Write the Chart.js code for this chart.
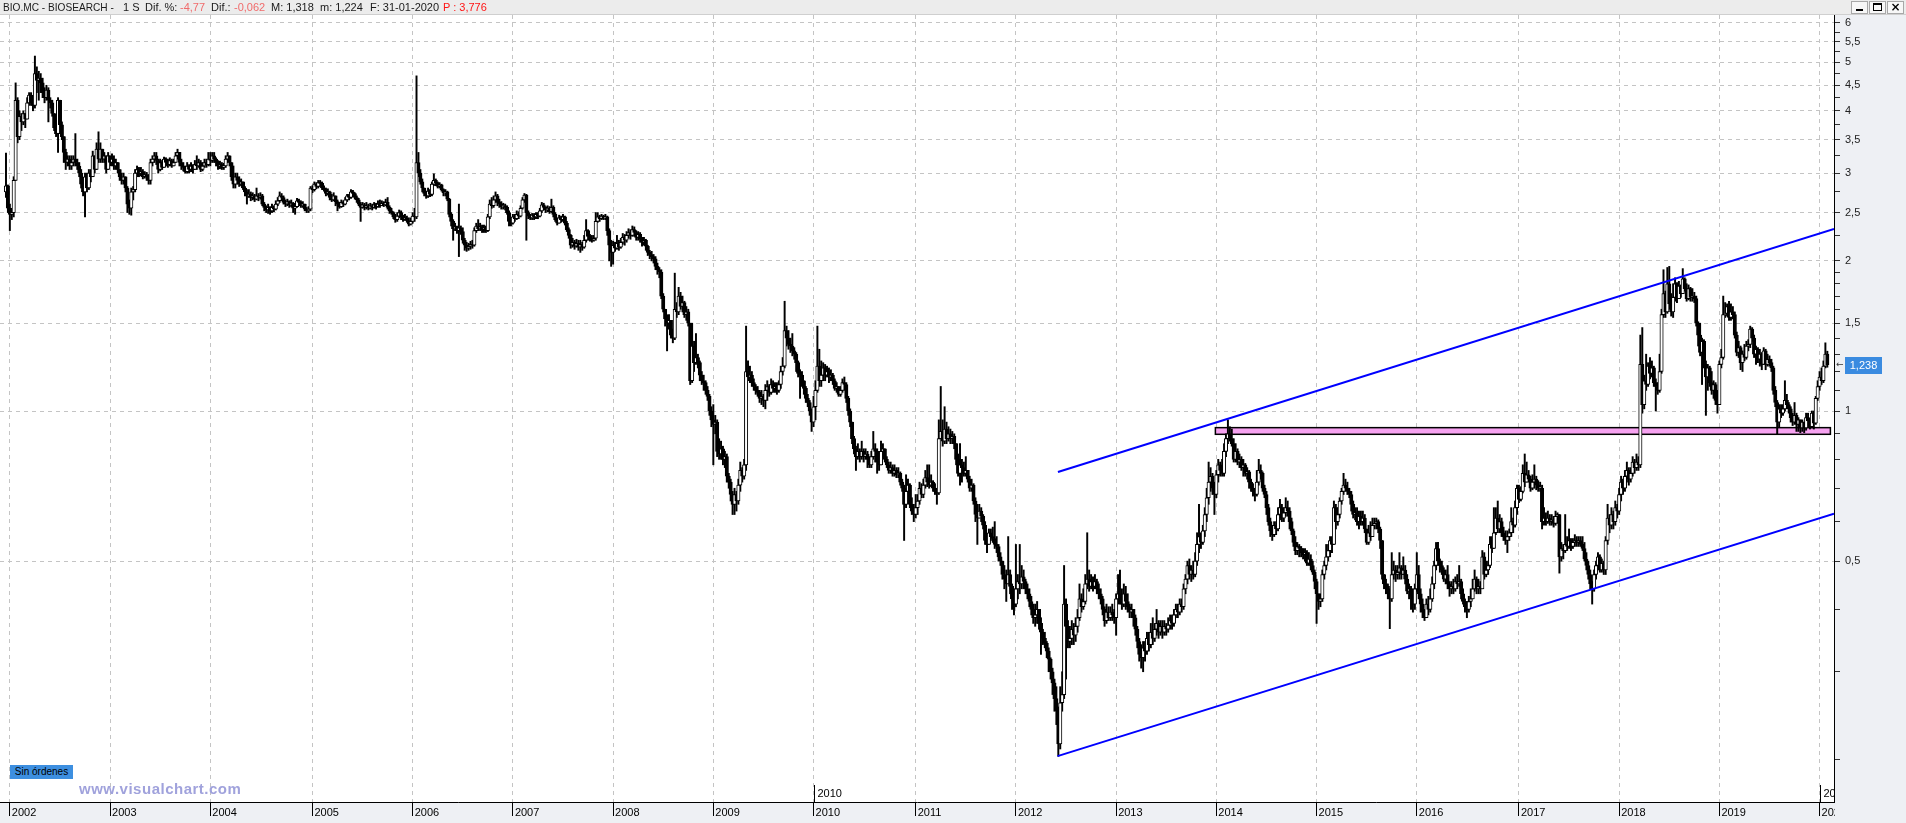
<!DOCTYPE html>
<html lang="es">
<head>
<meta charset="utf-8">
<title>BIO.MC - BIOSEARCH</title>
<script src="https://cdn.jsdelivr.net/npm/chart.js@4/dist/chart.umd.min.js"></script>
<style>
  html, body { margin:0; padding:0; background:#fff; overflow:hidden; }
  #wrap { position:relative; width:1906px; height:823px; }
  #chart { position:absolute; left:0; top:0; }
  .ov { position:absolute; white-space:pre; font-family:"Liberation Sans", Arial, sans-serif; }
  #hdr { left:0; top:0; width:1906px; height:14px; background:#ececec; border-bottom:1px solid #cfcfcf; }
  #hdr span { position:absolute; top:0; line-height:14px; font-size:11px; color:#1a1a1a; white-space:pre; }
  #hdr .neg { color:#f06b6b; }
  #hdr .red { color:#ff1414; }
  .wbtn { position:absolute; top:1px; width:15px; height:11px; border:1px solid #a8a8a8; background:#f7f7f7; }
  #sin { left:10px; top:765px; width:63px; height:14px; background:#3d8fe0; color:#000; font-size:10px; line-height:14px; text-align:center; }
  #vc { left:79px; top:780px; font-size:15px; font-weight:bold; color:#a0a2dc; letter-spacing:0.5px; }
</style>
</head>
<body>
<div id="wrap">
  <canvas id="chart" width="1906" height="823"></canvas>
  <div id="hdr" class="ov">
    <span style="left:3px;transform:scaleX(0.92);transform-origin:left center">BIO.MC - BIOSEARCH -</span>
    <span style="left:123px">1 S</span>
    <span style="left:145px">Dif. %:</span>
    <span class="neg" style="left:180px">-4,77</span>
    <span style="left:211px">Dif.:</span>
    <span class="neg" style="left:234px">-0,062</span>
    <span style="left:271px">M: 1,318</span>
    <span style="left:320px">m: 1,224</span>
    <span style="left:370px">F: 31-01-2020</span>
    <span class="red" style="left:443px">P : 3,776</span>
    <div class="wbtn" style="left:1851px"><div style="position:absolute;left:4px;top:7px;width:7px;height:2px;background:#000"></div></div>
    <div class="wbtn" style="left:1869px"><div style="position:absolute;left:3px;top:1px;width:7px;height:5px;border:1px solid #000;border-top-width:2px"></div></div>
    <div class="wbtn" style="left:1887px"><div style="position:absolute;left:0;top:-2px;width:15px;text-align:center;font:bold 12px 'DejaVu Sans',sans-serif;line-height:14px;color:#000">×</div></div>
  </div>
  <div id="sin" class="ov">Sin órdenes</div>
  <div id="vc" class="ov">www.visualchart.com</div>
</div>
<script>
// ---------------- DATA (weekly candles, prices in thousandths of euro) ----------------
const startDate = Date.UTC(2001, 11, 21);   // date of the first weekly bar (Friday)
const firstOpenMills = 2750;

const closeMills = [
  // 2001
  2830, 2550,
  // 2002
  2480, 2500, 2900, 4200, 3550, 3900, 3800, 3950, 3850, 4150,
  4300, 4150, 4100, 4750, 4600, 4650, 4550, 4350, 4250, 4400,
  4200, 4150, 3950, 3700, 3600, 4200, 3750, 3550, 3300, 3150,
  3200, 3100, 3150, 3200, 3150, 3100, 3000, 2850, 2750, 2950,
  2800, 3000, 2950, 3250, 3050, 3350, 3200, 3350, 3200, 3250,
  3050, 3250,
  // 2003
  3150, 3200, 3100, 3150, 3050, 2950, 2900, 2950, 2800, 2600,
  2550, 2750, 2780, 3000, 3050, 3000, 3020, 2950, 2980, 2950,
  2900, 3150, 3200, 3250, 3180, 3050, 3150, 3080, 3200, 3150,
  3120, 3180, 3100, 3150, 3250, 3300, 3150, 3100, 3080, 3020,
  3100, 3050, 3100, 3050, 3120, 3100, 3150, 3050, 3100, 3150,
  3120, 3200,
  // 2004
  3180, 3250, 3200, 3150, 3100, 3120, 3080, 3100, 3200, 3250,
  3150, 2950, 2850, 2950, 2900, 2850, 2880, 2800, 2750, 2700,
  2720, 2680, 2700, 2660, 2700, 2680, 2700, 2600, 2560, 2530,
  2560, 2520, 2560, 2540, 2600, 2640, 2700, 2680, 2620, 2600,
  2630, 2590, 2610, 2550, 2570, 2640, 2620, 2580, 2600, 2540,
  2520, 2540, 2800,
  // 2005
  2780, 2850, 2820, 2870, 2860, 2800, 2780, 2730, 2750, 2680,
  2650, 2700, 2630, 2600, 2570, 2620, 2600, 2650, 2700, 2680,
  2750, 2730, 2680, 2650, 2600, 2560, 2590, 2560, 2580, 2550,
  2580, 2560, 2590, 2570, 2600, 2580, 2610, 2590, 2620, 2560,
  2520, 2500, 2450, 2420, 2460, 2500, 2450, 2420, 2440, 2410,
  2370, 2400,
  // 2006
  2460, 2450, 3150, 3000, 2880, 2800, 2730, 2700, 2760, 2720,
  2850, 2900, 2870, 2820, 2840, 2780, 2740, 2750, 2660, 2480,
  2400, 2320, 2340, 2300, 2330, 2290, 2200, 2150, 2120, 2140,
  2160, 2150, 2300, 2350, 2320, 2340, 2310, 2330, 2300, 2450,
  2600, 2580, 2650, 2700, 2620, 2600, 2570, 2580, 2560, 2500,
  2400, 2380,
  // 2007
  2450, 2430, 2480, 2460, 2550, 2650, 2710, 2500, 2460, 2440,
  2470, 2450, 2480, 2460, 2520, 2590, 2560, 2530, 2550, 2510,
  2560, 2480, 2420, 2380, 2440, 2420, 2450, 2380, 2310, 2250,
  2150, 2180, 2140, 2170, 2130, 2160, 2130, 2200, 2300, 2240,
  2220, 2200, 2220, 2400, 2450, 2430, 2460, 2440, 2450, 2300,
  2150, 2080,
  // 2008
  2150, 2120, 2170, 2130, 2180, 2230, 2200, 2250, 2280, 2250,
  2310, 2280, 2230, 2260, 2210, 2180, 2200, 2140, 2080, 2060,
  2040, 2020, 1950, 1920, 1900, 1700, 1600, 1530, 1500, 1520,
  1420, 1400, 1600, 1580, 1700, 1620, 1650, 1560, 1580, 1500,
  1150, 1350, 1250, 1280, 1250, 1180, 1150, 1140, 1100, 1070,
  1000, 960,
  // 2009
  940, 950, 830, 820, 840, 800, 810, 740, 720, 680,
  650, 680, 660, 710, 760, 740, 780, 1200, 1170, 1180,
  1140, 1120, 1100, 1090, 1060, 1070, 1050, 1100, 1120, 1090,
  1130, 1110, 1120, 1100, 1130, 1200, 1230, 1450, 1400, 1360,
  1350, 1320, 1300, 1250, 1190, 1180, 1150, 1110, 1060, 1040,
  1000, 950,
  // 2010
  1020, 1100, 1230, 1150, 1180, 1220, 1180, 1200, 1170, 1180,
  1150, 1110, 1120, 1080, 1100, 1140, 1130, 1060, 1000, 950,
  880, 840, 810, 830, 810, 830, 810, 820, 800, 780,
  810, 840, 830, 790, 780, 830, 840, 800, 780, 760,
  770, 750, 760, 745, 750, 720, 700, 650, 690, 710,
  650, 630, 620,
  // 2011
  640, 660, 700, 680, 710, 735, 720, 710, 720, 700,
  690, 685, 880, 910, 870, 920, 880, 900, 880, 890,
  860, 800, 750, 780, 770, 750, 760, 730, 700, 710,
  660, 620, 610, 630, 615, 590, 550, 540, 570, 560,
  555, 540, 535, 510, 500, 470, 460, 450, 470, 445,
  420, 410,
  // 2012
  440, 455, 450, 465, 455, 440, 430, 415, 400, 385,
  390, 400, 375, 360, 350, 342, 330, 318, 300, 285,
  265, 250, 215, 260, 270, 410, 370, 345, 350, 365,
  355, 370, 385, 420, 405, 415, 450, 460, 445, 455,
  445, 455, 440, 430, 420, 400, 380, 395, 385, 395,
  390, 385,
  // 2013
  420, 430, 420, 410, 430, 415, 405, 395, 400, 385,
  365, 345, 325, 320, 335, 330, 350, 340, 360, 350,
  365, 375, 360, 370, 360, 370, 365, 372, 380, 375,
  390, 400, 395, 410, 405, 440, 460, 490, 470, 480,
  470, 500, 540, 560, 545, 575, 620, 670, 720, 740,
  700, 680,
  // 2014
  745, 780, 760, 750, 830, 880, 900, 880, 860, 800,
  830, 790, 800, 770, 780, 750, 755, 720, 700, 690,
  680, 720, 760, 750, 700, 680, 640, 600, 575, 565,
  590, 580, 620, 640, 610, 625, 640, 630, 600, 575,
  545, 525, 535, 530, 520, 515, 520, 495, 505, 490,
  475, 455,
  // 2015
  430, 415, 420, 470, 490, 510, 525, 550, 540, 640,
  600, 620, 660, 690, 710, 700, 690, 680, 650, 620,
  625, 600, 615, 600, 610, 580, 545, 570, 560, 590,
  595, 600, 580, 550, 470, 450, 445, 430, 420, 470,
  480, 470, 475, 485, 470, 480, 460, 435, 440, 425,
  410, 440,
  // 2016
  470, 430, 410, 395, 385, 410, 400, 420, 450, 490,
  530, 500, 490, 480, 460, 470, 450, 440, 445, 440,
  455, 450, 455, 430, 415, 405, 400, 415, 420, 440,
  460, 440, 445, 440, 510, 470, 480, 490, 540, 530,
  570, 610, 580, 600, 570, 560, 550, 560, 570, 600,
  590, 640, 700,
  // 2017
  665, 690, 750, 720, 745, 730, 700, 720, 730, 710,
  700, 700, 600, 610, 600, 610, 600, 605, 595, 615,
  620, 510, 530, 525, 540, 535, 550, 535, 545, 550,
  545, 550, 540, 530, 505, 490, 470, 450, 440, 470,
  490, 510, 480, 495, 480, 550, 610, 590, 620, 600,
  640, 630,
  // 2018
  680, 720, 700, 740, 760, 730, 750, 790, 770, 790,
  780, 1240, 1030, 1150, 1130, 1230, 1190, 1220, 1140, 1120,
  1100, 1200, 1560, 1720, 1580, 1800, 1640, 1580, 1690, 1800,
  1680, 1780, 1720, 1840, 1760, 1680, 1760, 1690, 1700, 1680,
  1500, 1420, 1310, 1380, 1240, 1170, 1220, 1140, 1100, 1130,
  1050, 1030,
  // 2019
  1240, 1280, 1560, 1570, 1620, 1540, 1580, 1560, 1420, 1310,
  1340, 1250, 1300, 1280, 1350, 1360, 1460, 1400, 1300, 1330,
  1270, 1300, 1240, 1320, 1240, 1270, 1250, 1220, 1100, 1040,
  950, 1010, 990, 1010, 1050, 1030, 1010, 970, 950, 980,
  940, 960, 925, 950, 925, 970, 955, 930, 990, 945,
  1060, 1120,
  // 2020
  1170, 1150, 1230, 1300, 1238
];

const highMills = [
  // 2001
  3290, 2840,
  // 2002
  2600, 2550, 2950, 4550, 4250, 4000, 3950, 4000, 3950, 4250,
  4350, 4350, 4250, 5150, 4900, 4800, 4750, 4650, 4450, 4500,
  4450, 4250, 4200, 3950, 3750, 4250, 4200, 3800, 3550, 3350,
  3250, 3250, 3250, 3250, 3600, 3200, 3150, 3050, 2900, 3000,
  3000, 3050, 3050, 3320, 3250, 3450, 3630, 3450, 3350, 3300,
  3250, 3300,
  // 2003
  3250, 3280, 3250, 3200, 3150, 3050, 3000, 3000, 2950, 2820,
  2650, 2800, 2820, 3050, 3100, 3080, 3080, 3050, 3020, 3010,
  2980, 3200, 3250, 3300, 3300, 3200, 3200, 3180, 3230, 3220,
  3200, 3220, 3200, 3200, 3300, 3350, 3300, 3200, 3150, 3100,
  3150, 3120, 3150, 3120, 3180, 3250, 3200, 3180, 3150, 3200,
  3200, 3300,
  // 2004
  3300, 3300, 3300, 3220, 3180, 3170, 3150, 3140, 3250, 3300,
  3250, 3150, 3100, 3000, 3000, 2950, 2920, 2880, 2820, 2780,
  2780, 2750, 2740, 2720, 2800, 2730, 2740, 2720, 2620, 2580,
  2600, 2570, 2600, 2580, 2640, 2680, 2750, 2730, 2700, 2650,
  2660, 2640, 2650, 2620, 2600, 2670, 2660, 2640, 2630, 2600,
  2560, 2570, 2820,
  // 2005
  2830, 2880, 2870, 2900, 2900, 2880, 2830, 2800, 2790, 2760,
  2720, 2740, 2700, 2650, 2620, 2650, 2640, 2680, 2720, 2720,
  2780, 2770, 2740, 2700, 2670, 2620, 2620, 2610, 2620, 2600,
  2610, 2600, 2620, 2610, 2640, 2650, 2640, 2630, 2660, 2680,
  2580, 2550, 2510, 2480, 2500, 2530, 2520, 2470, 2480, 2460,
  2440, 2440,
  // 2006
  2500, 2550, 4700, 3300, 3050, 2920, 2800, 2760, 2800, 2780,
  2880, 2990, 2920, 2880, 2870, 2850, 2790, 2780, 2760, 2670,
  2500, 2420, 2380, 2350, 2600, 2350, 2330, 2220, 2180, 2170,
  2190, 2200, 2330, 2380, 2420, 2380, 2360, 2360, 2350, 2480,
  2650, 2680, 2700, 2750, 2720, 2660, 2630, 2610, 2600, 2580,
  2520, 2430,
  // 2007
  2480, 2480, 2520, 2510, 2580, 2680, 2730, 2720, 2520, 2480,
  2490, 2490, 2500, 2500, 2550, 2620, 2610, 2570, 2580, 2570,
  2660, 2580, 2500, 2440, 2470, 2460, 2480, 2460, 2400, 2330,
  2260, 2220, 2200, 2210, 2200, 2200, 2180, 2250, 2420, 2310,
  2260, 2250, 2250, 2500, 2500, 2470, 2480, 2470, 2480, 2460,
  2320, 2200,
  // 2008
  2190, 2180, 2250, 2200, 2220, 2270, 2260, 2290, 2320, 2310,
  2350, 2340, 2300, 2290, 2280, 2230, 2230, 2210, 2150, 2100,
  2090, 2060, 2040, 1980, 1940, 1920, 1720, 1600, 1560, 1560,
  1500, 1460, 1890, 1650, 1770, 1730, 1700, 1660, 1620, 1600,
  1480, 1500, 1380, 1430, 1300, 1260, 1200, 1180, 1150, 1120,
  1080, 1020,
  // 2009
  1030, 980, 960, 880, 870, 850, 830, 820, 750, 730,
  690, 700, 690, 730, 790, 770, 800, 1480, 1260, 1230,
  1200, 1160, 1130, 1120, 1100, 1100, 1080, 1130, 1150, 1130,
  1160, 1150, 1140, 1140, 1150, 1230, 1280, 1660, 1480, 1450,
  1400, 1430, 1340, 1310, 1260, 1210, 1200, 1150, 1120, 1080,
  1050, 1010,
  // 2010
  1070, 1150, 1480, 1330, 1260, 1250, 1240, 1230, 1220, 1210,
  1190, 1160, 1140, 1120, 1120, 1160, 1170, 1140, 1070, 1010,
  950, 890, 850, 860, 840, 870, 840, 840, 830, 810,
  830, 910, 860, 840, 810, 870, 860, 840, 810, 790,
  790, 780, 780, 770, 770, 755, 730, 710, 745, 730,
  715, 670, 650,
  // 2011
  680, 680, 720, 715, 730, 760, 780, 780, 745, 725,
  715, 700, 960, 1120, 960, 1020, 950, 930, 920, 910,
  900, 860, 820, 860, 800, 790, 810, 760, 740, 730,
  715, 670, 650, 650, 640, 620, 600, 560, 580, 580,
  585, 600, 560, 540, 520, 500, 490, 480, 560, 480,
  450, 440,
  // 2012
  540, 470, 540, 490, 480, 460, 450, 440, 425, 410,
  410, 415, 400, 385, 365, 360, 345, 335, 320, 305,
  290, 280, 255, 280, 300, 490, 420, 380, 370, 380,
  375, 385, 400, 450, 430, 440, 470, 570, 480, 470,
  465, 470, 460, 450, 440, 425, 405, 410, 405, 405,
  410, 400,
  // 2013
  430, 470, 480, 440, 450, 445, 430, 410, 410, 400,
  390, 370, 350, 340, 345, 345, 360, 360, 375, 385,
  375, 400, 380, 380, 380, 380, 375, 385, 390, 390,
  400, 410, 410, 420, 420, 450, 470, 500, 505, 490,
  500, 520, 570, 650, 570, 590, 640, 700, 790, 770,
  750, 720,
  // 2014
  760, 800, 790, 800, 860, 900, 960, 930, 920, 880,
  860, 840, 820, 810, 800, 785, 770, 760, 730, 715,
  700, 760, 800, 780, 755, 710, 690, 650, 610, 590,
  600, 600, 640, 665, 650, 640, 670, 660, 640, 610,
  580, 560, 545, 540, 535, 530, 530, 525, 520, 515,
  500, 480,
  // 2015
  460, 430, 430, 480, 500, 540, 540, 560, 560, 660,
  650, 640, 670, 700, 750, 730, 720, 700, 690, 660,
  640, 640, 630, 630, 630, 620, 580, 590, 600, 610,
  610, 610, 605, 585, 550, 470, 460, 450, 440, 520,
  500, 490, 490, 520, 490, 510, 490, 470, 450, 445,
  440, 450,
  // 2016
  520, 490, 440, 420, 400, 420, 425, 440, 465, 500,
  545, 545, 505, 500, 485, 480, 490, 455, 455, 460,
  465, 470, 490, 460, 440, 420, 415, 425, 440, 460,
  480, 465, 460, 455, 525, 520, 500, 500, 560, 560,
  640, 640, 660, 620, 610, 585, 575, 575, 580, 640,
  610, 660, 710,
  // 2017
  710, 705, 780, 820, 790, 760, 740, 745, 780, 740,
  725, 720, 710, 640, 625, 630, 620, 620, 615, 630,
  625, 620, 545, 540, 620, 560, 580, 555, 555, 565,
  560, 560, 560, 560, 545, 520, 500, 480, 455, 480,
  500, 520, 515, 505, 500, 560, 650, 620, 640, 630,
  660, 650,
  // 2018
  700, 740, 730, 760, 790, 770, 770, 810, 800, 820,
  810, 1420, 1470, 1180, 1300, 1250, 1280, 1260, 1230, 1160,
  1140, 1300, 1600, 1920, 1740, 1940, 1950, 1720, 1800, 1850,
  1810, 1820, 1790, 1930, 1850, 1800, 1790, 1770, 1760, 1730,
  1700, 1510, 1500, 1400, 1390, 1260, 1240, 1230, 1200, 1150,
  1140, 1100,
  // 2019
  1260, 1330, 1700, 1650, 1640, 1660, 1640, 1620, 1580, 1440,
  1380, 1350, 1320, 1360, 1380, 1390, 1480, 1470, 1420, 1350,
  1340, 1330, 1310, 1340, 1330, 1300, 1290, 1270, 1230, 1120,
  1050, 1030, 1030, 1030, 1150, 1080, 1040, 1020, 990, 1040,
  990, 970, 960, 960, 950, 990, 990, 965, 1000, 1000,
  1070, 1150,
  // 2020
  1200, 1220, 1260, 1370, 1318
];

const lowMills = [
  // 2001
  2680, 2500,
  // 2002
  2300, 2420, 2450, 2950, 3450, 3500, 3650, 3750, 3700, 3850,
  4100, 4100, 4000, 4050, 4350, 4200, 4350, 4250, 4150, 4200,
  3800, 4050, 3900, 3650, 3550, 3300, 3700, 3500, 3150, 3050,
  3100, 3050, 3050, 3100, 3100, 3050, 2950, 2800, 2700, 2450,
  2750, 2780, 2880, 2950, 3000, 3050, 3150, 3150, 3150, 3150,
  3000, 3050,
  // 2003
  3100, 3100, 3050, 3050, 3000, 2900, 2850, 2850, 2750, 2500,
  2480, 2470, 2650, 2750, 2950, 2950, 2960, 2920, 2930, 2900,
  2850, 2850, 3100, 3150, 3120, 3000, 3030, 3050, 3080, 3100,
  3080, 3100, 3080, 3100, 3150, 3200, 3100, 3050, 3030, 3000,
  3000, 3000, 3020, 3000, 3050, 3050, 3080, 3020, 3030, 3080,
  3080, 3100,
  // 2004
  3100, 3150, 3150, 3100, 3050, 3060, 3050, 3050, 3080, 3150,
  3100, 2900, 2800, 2800, 2850, 2820, 2830, 2780, 2700, 2600,
  2680, 2640, 2650, 2630, 2650, 2640, 2660, 2580, 2520, 2500,
  2490, 2480, 2500, 2510, 2530, 2580, 2620, 2640, 2600, 2570,
  2580, 2560, 2570, 2500, 2480, 2560, 2580, 2560, 2560, 2520,
  2500, 2500, 2520,
  // 2005
  2740, 2760, 2790, 2800, 2820, 2780, 2760, 2700, 2710, 2650,
  2630, 2640, 2580, 2520, 2550, 2560, 2570, 2590, 2630, 2650,
  2670, 2700, 2660, 2620, 2580, 2400, 2550, 2530, 2540, 2530,
  2540, 2530, 2550, 2540, 2560, 2560, 2580, 2570, 2580, 2540,
  2490, 2480, 2430, 2390, 2400, 2440, 2420, 2400, 2410, 2390,
  2350, 2360,
  // 2006
  2380, 2400, 2430, 2950, 2850, 2750, 2700, 2670, 2680, 2690,
  2700, 2830, 2830, 2800, 2800, 2760, 2700, 2700, 2640, 2450,
  2350, 2200, 2300, 2270, 2040, 2260, 2170, 2100, 2090, 2100,
  2110, 2120, 2140, 2280, 2300, 2300, 2280, 2280, 2280, 2290,
  2430, 2550, 2560, 2620, 2580, 2560, 2540, 2540, 2530, 2480,
  2350, 2350,
  // 2007
  2370, 2400, 2420, 2430, 2450, 2540, 2620, 2200, 2430, 2420,
  2420, 2420, 2430, 2430, 2450, 2500, 2530, 2500, 2510, 2490,
  2500, 2450, 2400, 2360, 2380, 2390, 2400, 2360, 2290, 2220,
  2120, 2130, 2110, 2130, 2100, 2080, 2100, 2120, 2180, 2200,
  2190, 2180, 2190, 2200, 2390, 2400, 2420, 2420, 2420, 2250,
  2000, 1950,
  // 2008
  1970, 2090, 2110, 2100, 2120, 2160, 2150, 2180, 2220, 2210,
  2240, 2240, 2200, 2200, 2180, 2140, 2150, 2100, 2050, 2020,
  2000, 1980, 1920, 1880, 1850, 1680, 1580, 1480, 1320, 1460,
  1400, 1370, 1390, 1540, 1560, 1600, 1580, 1540, 1520, 1480,
  1130, 1140, 1200, 1240, 1220, 1150, 1130, 1100, 1080, 1050,
  980, 930,
  // 2009
  780, 900, 810, 800, 800, 780, 770, 720, 700, 660,
  620, 620, 630, 650, 690, 720, 730, 760, 1150, 1140,
  1120, 1100, 1080, 1070, 1040, 1030, 1020, 1010, 1050, 1070,
  1080, 1090, 1090, 1080, 1090, 1110, 1180, 1220, 1350, 1330,
  1310, 1290, 1270, 1200, 1170, 1060, 1120, 1080, 1040, 1020,
  980, 910,
  // 2010
  930, 960, 1090, 1120, 1120, 1150, 1150, 1170, 1140, 1150,
  1130, 1100, 1090, 1070, 1070, 1090, 1100, 1040, 980, 930,
  860, 820, 760, 800, 790, 800, 790, 800, 770, 770,
  770, 800, 790, 750, 760, 780, 810, 790, 770, 750,
  750, 740, 740, 735, 735, 710, 690, 550, 640, 660,
  640, 620, 600,
  // 2011
  610, 620, 650, 670, 670, 700, 705, 700, 705, 690,
  680, 650, 680, 880, 850, 860, 860, 870, 860, 860,
  840, 780, 740, 710, 720, 740, 740, 720, 690, 690,
  650, 600, 540, 610, 600, 580, 540, 520, 540, 550,
  545, 530, 520, 500, 490, 460, 440, 415, 450, 430,
  400, 390,
  // 2012
  405, 420, 430, 440, 440, 430, 420, 405, 390, 375,
  370, 375, 365, 325, 340, 335, 320, 300, 290, 270,
  250, 235, 203, 210, 250, 265, 290, 335, 335, 340,
  340, 345, 360, 380, 395, 400, 410, 440, 435, 440,
  435, 440, 430, 420, 410, 390, 370, 375, 380, 380,
  380, 375,
  // 2013
  355, 410, 410, 400, 405, 400, 395, 385, 385, 370,
  355, 335, 315, 305, 300, 315, 325, 330, 335, 340,
  345, 355, 350, 355, 350, 355, 355, 360, 365, 365,
  370, 385, 385, 390, 395, 400, 430, 450, 460, 455,
  460, 465, 490, 520, 530, 540, 560, 600, 650, 690,
  680, 620,
  // 2014
  670, 720, 740, 740, 740, 810, 860, 870, 850, 790,
  790, 780, 770, 760, 740, 740, 730, 700, 690, 675,
  660, 675, 710, 730, 690, 670, 620, 590, 560, 550,
  560, 565, 575, 605, 600, 600, 615, 615, 580, 565,
  535, 515, 515, 510, 510, 505, 500, 490, 490, 480,
  470, 440,
  // 2015
  375, 400, 405, 415, 460, 480, 500, 510, 520, 540,
  580, 590, 610, 650, 680, 690, 680, 670, 630, 610,
  605, 590, 580, 590, 590, 570, 540, 540, 550, 560,
  580, 580, 570, 530, 460, 440, 430, 420, 366, 415,
  460, 455, 460, 460, 460, 470, 450, 430, 420, 400,
  395, 400,
  // 2016
  435, 420, 395, 385, 380, 385, 390, 395, 415, 440,
  480, 490, 475, 470, 455, 450, 440, 425, 430, 430,
  435, 440, 445, 420, 410, 395, 385, 395, 405, 425,
  435, 430, 430, 430, 440, 460, 465, 470, 485, 520,
  540, 565, 570, 570, 560, 550, 540, 520, 550, 560,
  570, 585, 620,
  // 2017
  655, 660, 685, 705, 735, 720, 690, 695, 700, 695,
  690, 690, 580, 590, 590, 595, 590, 590, 585, 590,
  595, 473, 500, 505, 520, 525, 530, 525, 530, 535,
  535, 535, 535, 525, 500, 480, 460, 440, 410, 435,
  460, 480, 475, 475, 470, 470, 540, 570, 580, 580,
  590, 610,
  // 2018
  620, 660, 680, 690, 720, 710, 720, 740, 750, 760,
  760, 770, 990, 1010, 1100, 1120, 1160, 1170, 1120, 1000,
  1080, 1090, 1190, 1540, 1540, 1570, 1600, 1550, 1540, 1660,
  1650, 1690, 1690, 1720, 1740, 1660, 1670, 1660, 1660, 1650,
  1480, 1350, 1290, 1130, 1220, 980, 1100, 1120, 1080, 1060,
  1030, 990,
  // 2019
  1030, 1220, 1270, 1540, 1550, 1520, 1520, 1530, 1400, 1290,
  1280, 1210, 1200, 1260, 1270, 1320, 1340, 1380, 1280, 1240,
  1250, 1230, 1210, 1240, 1210, 1230, 1230, 1200, 1080, 1020,
  900, 930, 970, 980, 1000, 1010, 990, 950, 935, 940,
  910, 910, 905, 910, 905, 915, 940, 920, 925, 920,
  940, 1050,
  // 2020
  1100, 1130, 1140, 1220, 1224
];

// axis tick values and labels
const yMajorTicks = [0.5, 1, 1.5, 2, 2.5, 3, 3.5, 4, 4.5, 5, 5.5, 6];
const yMinorTicks = [0.2, 0.3, 0.4, 0.6, 0.7, 0.8, 0.9, 1.1, 1.2, 1.3, 1.4, 1.6, 1.7, 1.8, 1.9,
                     2.25, 2.75, 3.25, 3.75, 4.25, 4.75, 5.25, 5.75];
const yearLabels = [2002, 2003, 2004, 2005, 2006, 2007, 2008, 2009, 2010, 2011,
                    2012, 2013, 2014, 2015, 2016, 2017, 2018, 2019, 2020];
const decadeLabels = [2010, 2020];

// drawn studies (bar index, price)
const channelUpper = [{x: 545.8, y: 0.7545}, {x: 948.5, y: 2.319}];
const channelLower = [{x: 545.6, y: 0.2032}, {x: 948.5, y: 0.6225}];
const zoneBars = [627.5, 946.6];
const zonePrices = [0.898, 0.926];

// ---------------- BUILD ----------------
const N = closeMills.length;
const DAY = 86400000;
const weekDates = Array.from({length: N}, (_, i) => new Date(startDate + i * 7 * DAY));
const closes = closeMills.map(v => v / 1000);
const opens = closes.map((c, i) => i === 0 ? firstOpenMills / 1000 : closes[i - 1]);
const highs = closes.map((c, i) => Math.max((highMills[i] ?? closeMills[i]) / 1000, opens[i], c));
const lows = closes.map((c, i) => Math.min((lowMills[i] ?? closeMills[i]) / 1000, opens[i], c));

const yearTickIndex = {};
weekDates.forEach((d, i) => {
  const yr = d.getUTCFullYear();
  if (yearLabels.includes(yr) && !(yr in yearTickIndex)) yearTickIndex[yr] = i;
});
const xTicks = yearLabels.map(y => yearTickIndex[y]);
const xTickText = {};
yearLabels.forEach(y => { xTickText[yearTickIndex[y]] = String(y); });
const yAllTicks = yMinorTicks.concat(yMajorTicks).sort((a, b) => a - b);

const bodyData = closes.map((c, i) => ({x: i, y: [Math.min(opens[i], c), Math.max(opens[i], c)]}));
const wickData = closes.map((c, i) => ({x: i, y: [lows[i], highs[i]]}));
const bodyFill = closes.map((c, i) => c >= opens[i] ? '#ffffff' : '#000000');

const PANEL = '#eef0f4';
const GRID = '#c4c4c4';
const FONT = '"Liberation Sans", Arial, sans-serif';
Chart.defaults.font.family = FONT;
Chart.defaults.font.size = 11;
Chart.defaults.color = '#111';

const bgPlugin = {
  id: 'bg',
  beforeDraw(chart) {
    const {ctx, chartArea: a, width, height} = chart;
    ctx.save();
    ctx.fillStyle = '#ffffff';
    ctx.fillRect(0, 0, width, height);
    ctx.fillStyle = PANEL;
    ctx.fillRect(a.right, 0, width - a.right, height);
    ctx.fillRect(0, a.bottom, a.right, height - a.bottom);
    ctx.restore();
  }
};

const zonePlugin = {
  id: 'zone',
  beforeDatasetsDraw(chart) {
    const {ctx, scales: {x, y}} = chart;
    const l = x.getPixelForValue(zoneBars[0]), r = x.getPixelForValue(zoneBars[1]);
    const t = y.getPixelForValue(zonePrices[1]), b = y.getPixelForValue(zonePrices[0]);
    ctx.save();
    ctx.fillStyle = '#f6a2f0';
    ctx.fillRect(l, t, r - l, b - t);
    ctx.strokeStyle = '#000';
    ctx.lineWidth = 1.5;
    ctx.strokeRect(l, t, r - l, b - t);
    ctx.restore();
  }
};

const overlayPlugin = {
  id: 'overlay',
  afterDraw(chart) {
    const {ctx, chartArea: a, scales: {x, y}, width, height} = chart;
    ctx.save();
    // the x labels are hidden behind the price panel
    ctx.fillStyle = PANEL;
    ctx.fillRect(a.right + 1, a.bottom + 1, width - a.right - 1, height - a.bottom - 1);
    // decade markers above the time axis
    ctx.save();
    ctx.beginPath();
    ctx.rect(a.left, a.top, a.right - a.left, a.bottom - a.top);
    ctx.clip();
    ctx.font = '11px ' + FONT;
    ctx.textAlign = 'left';
    ctx.textBaseline = 'middle';
    decadeLabels.forEach(yr => {
      const px = Math.round(x.getPixelForValue(yearTickIndex[yr])) + 0.5;
      ctx.strokeStyle = '#000';
      ctx.lineWidth = 1;
      ctx.beginPath();
      ctx.moveTo(px, a.bottom);
      ctx.lineTo(px, a.bottom - 17);
      ctx.stroke();
      ctx.fillStyle = '#000';
      ctx.fillText(String(yr), px + 3, a.bottom - 8);
    });
    ctx.restore();
    // last price tag
    const last = closes[N - 1];
    const py = Math.round(y.getPixelForValue(last));
    ctx.fillStyle = '#3a8be0';
    ctx.fillRect(a.right + 11, py - 8, 37, 17);
    ctx.fillStyle = '#ffffff';
    ctx.font = '11px ' + FONT;
    ctx.textAlign = 'center';
    ctx.textBaseline = 'middle';
    ctx.fillText(last.toFixed(3).replace('.', ','), a.right + 29.5, py + 1);
    ctx.fillStyle = '#333';
    ctx.font = '9px "DejaVu Sans", sans-serif';
    ctx.textAlign = 'left';
    ctx.fillText('←', a.right + 2, py);
    ctx.restore();
  }
};

new Chart(document.getElementById('chart'), {
  type: 'bar',
  data: {
    datasets: [
      {type: 'line', data: channelUpper, borderColor: '#0000ff', borderWidth: 2, pointRadius: 0, tension: 0, order: 0},
      {type: 'line', data: channelLower, borderColor: '#0000ff', borderWidth: 2, pointRadius: 0, tension: 0, order: 0},
      {type: 'bar', data: bodyData, backgroundColor: bodyFill, borderColor: '#000000', borderWidth: 1,
       borderSkipped: false, barThickness: 3.4, grouped: false, minBarLength: 1, order: 1},
      {type: 'bar', data: wickData, backgroundColor: '#000000', borderWidth: 0,
       barThickness: 1.3, grouped: false, order: 2}
    ]
  },
  options: {
    responsive: false,
    animation: false,
    devicePixelRatio: 1,
    events: [],
    layout: {padding: {top: 15, left: 0, right: 0, bottom: 0}},
    plugins: {legend: {display: false}, tooltip: {enabled: false}},
    scales: {
      x: {
        type: 'linear', position: 'bottom', min: -3.11, max: 948.47, offset: false,
        afterBuildTicks: s => { s.ticks = xTicks.map(v => ({value: v})); },
        afterFit: s => { s.height = 21; },
        ticks: {autoSkip: false, maxRotation: 0, minRotation: 0, align: 'start', labelOffset: 2,
                padding: -10, color: '#000', font: {size: 11}, callback: v => xTickText[v] ?? ''},
        grid: {display: true, drawOnChartArea: true, drawTicks: true, tickLength: 14, color: GRID,
               tickColor: '#000', lineWidth: 1, offset: false},
        border: {display: true, color: '#000', width: 1, dash: [4, 4]}
      },
      y: {
        type: 'logarithmic', position: 'right', min: 0.1644, max: 6.225, bounds: 'data',
        afterBuildTicks: s => { s.ticks = yAllTicks.map(v => ({value: v})); },
        afterFit: s => { s.width = 72; },
        ticks: {autoSkip: false, padding: 5, color: '#222', font: {size: 11},
                callback: v => yMajorTicks.includes(v) ? String(v).replace('.', ',') : ''},
        grid: {drawOnChartArea: true, drawTicks: true, tickLength: 6,
               color: c => (c.tick && yMajorTicks.includes(c.tick.value)) ? GRID : 'rgba(0,0,0,0)',
               tickColor: '#333'},
        border: {display: true, color: '#000', width: 1, dash: [4, 4]}
      }
    }
  },
  plugins: [bgPlugin, zonePlugin, overlayPlugin]
});
</script>
</body>
</html>
